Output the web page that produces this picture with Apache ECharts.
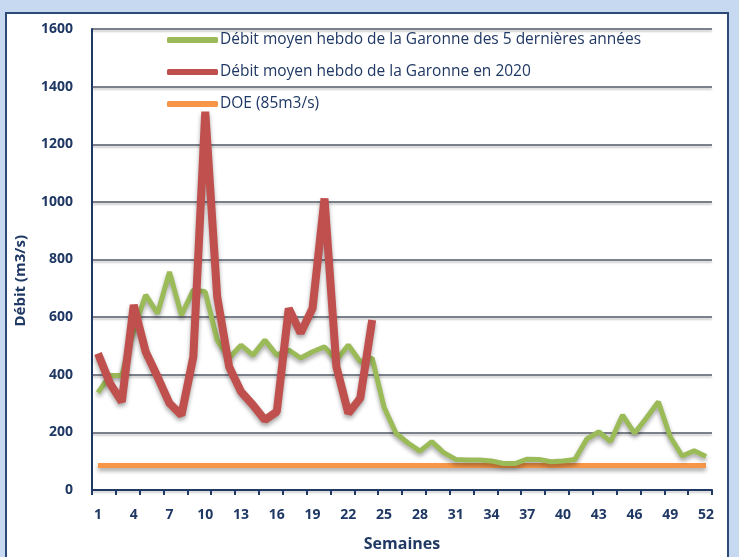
<!DOCTYPE html>
<html><head><meta charset="utf-8">
<script src="https://cdn.jsdelivr.net/npm/echarts@6/dist/echarts.min.js"></script>
<style>html,body{margin:0;padding:0;background:#c6d9f0;}#frame{position:absolute;left:5px;top:12px;width:724px;height:560px;background:#fff;border:2px solid #2b4a76;box-sizing:border-box;}#c{position:absolute;left:0;top:0;width:739px;height:557px;}</style>
</head><body><div id="frame"></div><div id="c"></div>
<script>
const weeks = Array.from({length:52},(_,i)=>String(i+1));
const avg5 = [338,397,397,555,677,613,757,607,694,688,520,458,503,468,520,468,486,458,480,497,451,503,445,458,287,197,163,135,168,130,106,104,104,101,92,92,107,106,98,101,106,177,202,168,260,197,250,306,185,118,136,116];
const y2020 = [474,371,306,642,480,393,301,260,463,1313,671,428,341,295,243,272,630,545,631,1012,428,266,319,590];
const doe = weeks.map(()=>85);
const yTicks = [0,200,400,600,800,1000,1200,1400,1600];
const names = ['Débit moyen hebdo de la Garonne des 5 dernières années','Débit moyen hebdo de la Garonne en 2020','DOE (85m3/s)'];
const navy = '#1f3864';
const shadow = {shadowColor:'rgba(0,0,0,0.35)',shadowBlur:4,shadowOffsetY:3};
const chart = echarts.init(document.getElementById('c'));
chart.setOption({
  animation:false,
  backgroundColor:'transparent',
  grid:{left:92,right:27,top:29,bottom:67},
  legend:{orient:'vertical',left:167,top:29,padding:0,itemGap:10,itemWidth:51,itemHeight:6,icon:'roundRect',
    textStyle:{color:navy,fontSize:15.5,fontFamily:'Open Sans',padding:[0,0,0,-3],height:22,lineHeight:22},data:names},
  xAxis:{type:'category',data:weeks,boundaryGap:true,
    axisLine:{lineStyle:{color:navy,width:2}},
    axisTick:{show:true,interval:1,length:5,lineStyle:{color:navy,width:2}},
    axisLabel:{interval:2,color:navy,fontWeight:'bold',fontSize:14,fontFamily:'Open Sans',margin:18},
    name:'Semaines',nameLocation:'middle',nameGap:46,
    nameTextStyle:{color:navy,fontWeight:'bold',fontSize:16,fontFamily:'Open Sans'}},
  yAxis:{type:'value',min:0,max:1600,interval:200,
    axisLine:{show:true,lineStyle:{color:navy,width:2}},
    axisTick:{show:false},
    axisLabel:{color:navy,fontWeight:'bold',fontSize:14,fontFamily:'Open Sans',margin:19,
      formatter:v=>yTicks.includes(v)?String(v):''},
    splitLine:{lineStyle:{color:'#505866',width:1.5,shadowColor:'rgba(0,0,0,0.25)',shadowBlur:2,shadowOffsetY:2}}},
  series:[
    {name:names[0],type:'line',data:avg5,symbol:'none',z:2,color:'#9bbb59',
      lineStyle:{width:5,color:'#9bbb59',...shadow}},
    {name:names[1],type:'line',data:y2020,symbol:'none',z:3,color:'#c0504d',
      lineStyle:{width:8,color:'#c0504d',...shadow}},
    {name:names[2],type:'line',data:doe,symbol:'none',z:1,color:'#f79646',
      lineStyle:{width:5,color:'#f79646',...shadow}}
  ],
  graphic:[{type:'text',left:13,top:235,rotation:Math.PI/2,
    style:{text:'Débit (m3/s)',fill:navy,font:'bold 15px "Open Sans"'}}]
});
</script></body></html>
